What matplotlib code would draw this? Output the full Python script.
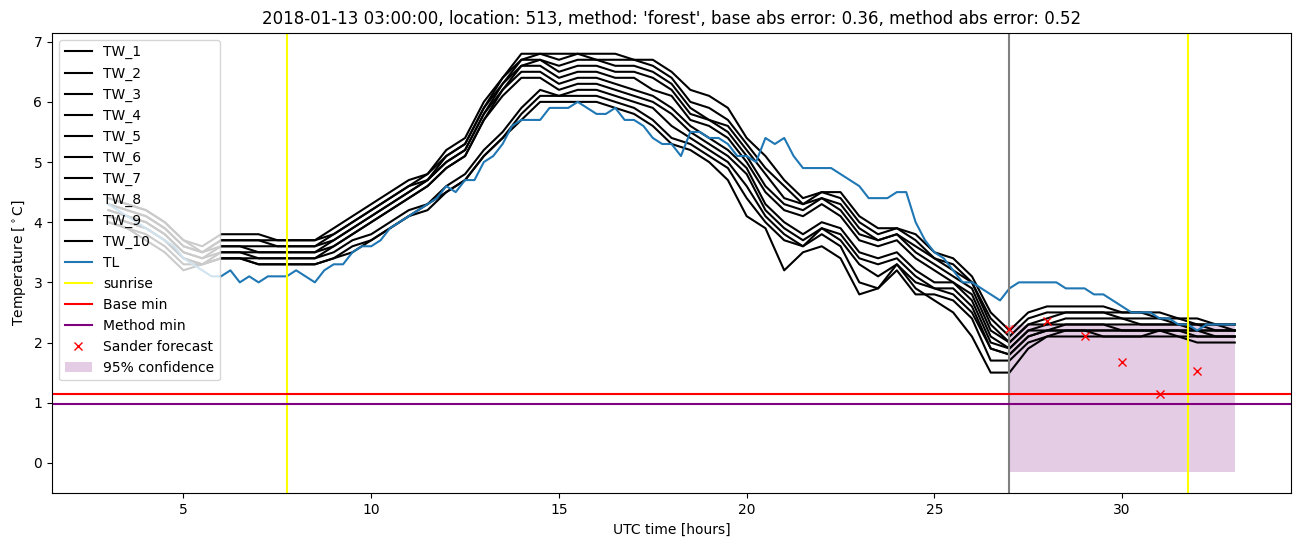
"""Forecast check plot: wet-bulb ensemble, air temperature and forecast minimum."""

import matplotlib

matplotlib.use("Agg")
import matplotlib.pyplot as plt
import numpy as np

# hours since 2018-01-12 00 UTC, half-hourly for TW, quarter-hourly for TL
tw_hours = np.linspace(3, 33, 61)
tl_hours = np.linspace(3, 33, 121)

tw_1 = [4.4, 4.3, 4.2, 4.0, 3.7, 3.6, 3.8, 3.8, 3.8, 3.7, 3.7, 3.7,
        3.9, 4.1, 4.3, 4.5, 4.7, 4.8, 5.2, 5.4, 6.0, 6.4, 6.8, 6.8,
        6.8, 6.8, 6.8, 6.8, 6.7, 6.7, 6.5, 6.2, 6.1, 5.9, 5.4, 5.1,
        4.7, 4.4, 4.5, 4.5, 4.1, 3.9, 3.9, 3.8, 3.5, 3.4, 3.1, 2.5,
        2.2, 2.5, 2.6, 2.6, 2.6, 2.6, 2.5, 2.5, 2.5, 2.4, 2.4, 2.3, 2.3]
tw_2 = [4.4, 4.3, 4.2, 4.0, 3.7, 3.5, 3.7, 3.7, 3.7, 3.7, 3.7, 3.7,
        3.8, 4.0, 4.2, 4.4, 4.6, 4.8, 5.1, 5.3, 5.9, 6.4, 6.7, 6.8,
        6.7, 6.8, 6.7, 6.7, 6.7, 6.6, 6.4, 6.0, 5.9, 5.7, 5.3, 4.9,
        4.6, 4.3, 4.5, 4.4, 4.0, 3.8, 3.9, 3.7, 3.4, 3.3, 3.0, 2.4,
        2.1, 2.4, 2.5, 2.5, 2.5, 2.5, 2.5, 2.5, 2.4, 2.4, 2.3, 2.3, 2.3]
tw_3 = [4.3, 4.2, 4.1, 3.9, 3.6, 3.5, 3.7, 3.7, 3.7, 3.6, 3.6, 3.6,
        3.8, 4.0, 4.2, 4.4, 4.6, 4.7, 5.1, 5.3, 5.9, 6.3, 6.7, 6.7,
        6.6, 6.7, 6.7, 6.6, 6.6, 6.5, 6.3, 5.9, 5.7, 5.6, 5.2, 4.8,
        4.4, 4.3, 4.4, 4.3, 3.9, 3.7, 3.8, 3.6, 3.4, 3.2, 3.0, 2.3,
        2.0, 2.3, 2.4, 2.5, 2.5, 2.5, 2.4, 2.4, 2.4, 2.3, 2.3, 2.3, 2.2]
tw_4 = [4.3, 4.2, 4.1, 3.9, 3.6, 3.5, 3.6, 3.6, 3.6, 3.6, 3.6, 3.6,
        3.7, 3.9, 4.1, 4.3, 4.5, 4.7, 5.0, 5.2, 5.8, 6.3, 6.6, 6.7,
        6.5, 6.6, 6.6, 6.5, 6.5, 6.4, 6.2, 5.8, 5.7, 5.5, 5.1, 4.6,
        4.3, 4.2, 4.4, 4.2, 3.8, 3.7, 3.8, 3.5, 3.3, 3.1, 2.9, 2.2,
        2.0, 2.3, 2.3, 2.4, 2.4, 2.4, 2.4, 2.3, 2.3, 2.3, 2.3, 2.2, 2.2]
tw_5 = [4.2, 4.1, 4.0, 3.8, 3.5, 3.4, 3.6, 3.6, 3.5, 3.5, 3.5, 3.5,
        3.7, 3.9, 4.1, 4.3, 4.5, 4.7, 5.0, 5.2, 5.8, 6.2, 6.6, 6.6,
        6.4, 6.5, 6.5, 6.4, 6.4, 6.2, 6.1, 5.7, 5.6, 5.4, 5.0, 4.5,
        4.2, 4.1, 4.3, 4.1, 3.7, 3.6, 3.7, 3.4, 3.2, 3.0, 2.8, 2.1,
        1.9, 2.2, 2.3, 2.3, 2.3, 2.3, 2.3, 2.3, 2.3, 2.3, 2.2, 2.2, 2.2]
tw_6 = [4.2, 4.1, 4.0, 3.8, 3.5, 3.4, 3.5, 3.5, 3.5, 3.5, 3.5, 3.5,
        3.6, 3.8, 4.0, 4.2, 4.4, 4.6, 4.9, 5.1, 5.7, 6.2, 6.5, 6.5,
        6.3, 6.4, 6.4, 6.3, 6.2, 6.1, 5.9, 5.6, 5.4, 5.2, 4.9, 4.3,
        4.0, 3.8, 4.0, 3.9, 3.5, 3.4, 3.5, 3.2, 3.0, 3.0, 2.7, 2.0,
        1.9, 2.2, 2.2, 2.3, 2.3, 2.3, 2.2, 2.2, 2.2, 2.2, 2.2, 2.2, 2.2]
tw_7 = [4.1, 4.0, 3.9, 3.7, 3.4, 3.3, 3.5, 3.5, 3.4, 3.4, 3.4, 3.4,
        3.6, 3.8, 4.0, 4.2, 4.4, 4.6, 4.9, 5.1, 5.7, 6.1, 6.4, 6.4,
        6.2, 6.3, 6.3, 6.2, 6.1, 6.0, 5.8, 5.5, 5.3, 5.1, 4.8, 4.2,
        3.9, 3.7, 3.9, 3.8, 3.4, 3.3, 3.4, 3.1, 2.9, 2.9, 2.6, 1.9,
        1.8, 2.1, 2.2, 2.2, 2.2, 2.2, 2.2, 2.2, 2.2, 2.2, 2.2, 2.1, 2.1]
tw_8 = [4.1, 4.0, 3.9, 3.7, 3.4, 3.3, 3.4, 3.4, 3.4, 3.4, 3.4, 3.4,
        3.5, 3.7, 3.8, 4.0, 4.2, 4.3, 4.6, 4.8, 5.2, 5.5, 5.9, 6.2,
        6.1, 6.2, 6.2, 6.1, 6.0, 5.9, 5.6, 5.4, 5.2, 5.0, 4.6, 4.1,
        3.8, 3.6, 3.9, 3.7, 3.3, 3.1, 3.3, 3.0, 2.9, 2.8, 2.5, 1.9,
        1.8, 2.1, 2.2, 2.2, 2.2, 2.2, 2.2, 2.2, 2.2, 2.2, 2.1, 2.1, 2.1]
tw_9 = [4.0, 3.9, 3.8, 3.6, 3.3, 3.3, 3.4, 3.4, 3.3, 3.3, 3.3, 3.3,
        3.4, 3.6, 3.7, 3.9, 4.1, 4.3, 4.5, 4.7, 5.1, 5.4, 5.8, 6.1,
        6.1, 6.1, 6.1, 6.0, 5.9, 5.7, 5.4, 5.3, 5.1, 4.9, 4.4, 4.0,
        3.7, 3.6, 3.8, 3.6, 3.0, 2.9, 3.2, 2.8, 2.8, 2.7, 2.4, 1.7,
        1.7, 2.0, 2.1, 2.2, 2.2, 2.1, 2.1, 2.1, 2.2, 2.1, 2.1, 2.1, 2.1]
tw_10 = [4.0, 3.9, 3.7, 3.5, 3.2, 3.3, 3.4, 3.4, 3.3, 3.3, 3.3, 3.3,
         3.4, 3.5, 3.7, 3.9, 4.1, 4.2, 4.5, 4.7, 5.1, 5.4, 5.7, 6.0,
         6.0, 6.0, 6.0, 5.9, 5.8, 5.6, 5.3, 5.2, 5.0, 4.7, 4.1, 3.9,
         3.2, 3.5, 3.6, 3.4, 2.8, 2.9, 3.3, 2.9, 2.7, 2.5, 2.1, 1.5,
         1.5, 1.9, 2.1, 2.1, 2.1, 2.1, 2.1, 2.1, 2.1, 2.1, 2.0, 2.0, 2.0]
tw_series = [tw_1, tw_2, tw_3, tw_4, tw_5, tw_6, tw_7, tw_8, tw_9, tw_10]

tl = [4.3, 4.2, 4.1, 4.0, 3.9, 3.8, 3.7, 3.6, 3.4, 3.3, 3.2, 3.1,
      3.1, 3.2, 3.0, 3.1, 3.0, 3.1, 3.1, 3.1, 3.2, 3.1, 3.0, 3.2,
      3.3, 3.3, 3.5, 3.6, 3.6, 3.7, 3.9, 4.0, 4.1, 4.2, 4.3, 4.4,
      4.6, 4.5, 4.7, 4.7, 5.0, 5.1, 5.3, 5.6, 5.7, 5.7, 5.7, 5.9,
      5.9, 5.9, 6.0, 5.9, 5.8, 5.8, 5.9, 5.7, 5.7, 5.6, 5.4, 5.3,
      5.3, 5.1, 5.5, 5.5, 5.4, 5.4, 5.3, 5.1, 5.1, 5.0, 5.4, 5.3,
      5.4, 5.1, 4.9, 4.9, 4.9, 4.9, 4.8, 4.7, 4.6, 4.4, 4.4, 4.4,
      4.5, 4.5, 4.0, 3.7, 3.5, 3.4, 3.2, 3.0, 3.0, 2.9, 2.8, 2.7,
      2.9, 3.0, 3.0, 3.0, 3.0, 3.0, 2.9, 2.9, 2.9, 2.8, 2.8, 2.7,
      2.6, 2.5, 2.5, 2.5, 2.4, 2.4, 2.3, 2.3, 2.2, 2.3, 2.3, 2.3, 2.3]

sunrise_hours = [7.76, 31.75]
forecast_start = 27.0
base_min = 1.15
method_min = 0.98

sander_hours = [27, 28, 29, 30, 31, 32]
sander_values = [2.22, 2.35, 2.11, 1.68, 1.15, 1.53]

conf_hours = [27, 33]
conf_low = -0.16
conf_high = 2.29

title = ("2018-01-13 03:00:00, location: 513, method: 'forest', "
         "base abs error: 0.36, method abs error: 0.52")

fig, ax = plt.subplots(figsize=(13.02, 5.47), dpi=100)
fig.subplots_adjust(left=0.040, right=0.9916, top=0.940, bottom=0.098)

for i, values in enumerate(tw_series):
    ax.plot(tw_hours, values, color="black", label=f"TW_{i + 1}")
ax.plot(tl_hours, tl, color="tab:blue", label="TL")

ax.axvline(sunrise_hours[0], color="yellow", label="sunrise")
ax.axvline(sunrise_hours[1], color="yellow")
ax.axvline(forecast_start, color="grey")
ax.axhline(base_min, color="red", label="Base min")
ax.axhline(method_min, color="purple", label="Method min")
ax.plot(sander_hours, sander_values, "x", color="red", label="Sander forecast")
ax.fill_between(conf_hours, conf_low, conf_high, color="purple", alpha=0.2,
                linewidth=0, label="95% confidence")

ax.set_title(title)
ax.set_xlabel("UTC time [hours]")
ax.set_ylabel(r"Temperature [$^\circ$C]")
ax.legend(loc="upper left")

fig.savefig("out.png", dpi=100)
plt.close(fig)
